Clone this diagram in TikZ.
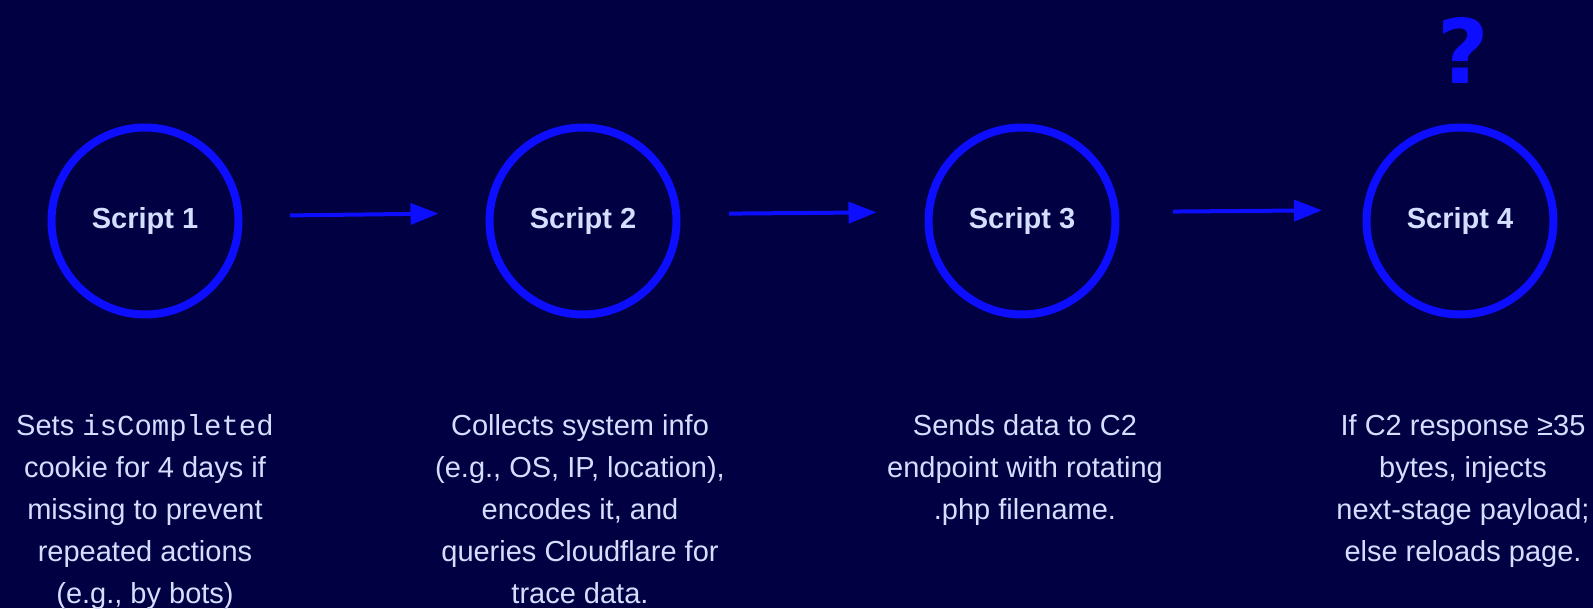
\documentclass[tikz,border=0pt]{standalone}
\usepackage{fontspec}
\setmainfont{Liberation Sans}
\setmonofont{Liberation Mono}
\newfontfamily\qfont{DejaVu Sans}
\usetikzlibrary{arrows.meta}
\definecolor{bgnavy}{HTML}{000042}
\definecolor{vivid}{HTML}{0D0DFF}
\definecolor{pale}{HTML}{D4DEFF}
\tikzset{
  scirc/.style={circle, draw=vivid, line width=8pt, minimum size=187pt, inner sep=0pt,
    text=pale, font=\fontsize{29}{35}\selectfont\bfseries},
  flow/.style={draw=vivid, line width=4pt, -{Triangle[length=28pt,width=21pt]}},
  desc/.style={anchor=north, inner sep=0pt, align=center, text=pale,
    font=\fontsize{29}{42}\selectfont},
  qmark/.style={text=vivid, inner sep=0pt, font=\qfont\fontsize{89}{100}\selectfont\bfseries}
}
\begin{document}
\begin{tikzpicture}[x=1pt,y=-1pt]
\fill[bgnavy] (0,0) rectangle (1593,608);
\useasboundingbox (0,0) rectangle (1593,608);
\node[scirc] (s1) at (145,221) {Script 1};
\node[scirc] (s2) at (583,221) {Script 2};
\node[scirc] (s3) at (1022,221) {Script 3};
\node[scirc] (s4) at (1460,221) {Script 4};
\node[qmark] (q) at (1463,50) {?};
\draw[flow, shorten <=47.5pt, shorten >=47pt] ([yshift=5pt]s1.east) -- ([yshift=8pt]s2.west);
\draw[flow, shorten <=48.5pt, shorten >=48pt] ([yshift=7pt]s2.east) -- ([yshift=9pt]s3.west);
\draw[flow, shorten <=53.5pt, shorten >=40.5pt] ([yshift=9pt]s3.east) -- ([yshift=11pt]s4.west);
\node[desc] (t1) at (145,405.6) {\strut Sets \texttt{isCompleted}\\cookie for 4 days if\\missing to prevent\\repeated actions\\(e.g., by bots)};
\node[desc] (t2) at (580,405.6) {\strut Collects system info\\(e.g., OS, IP, location),\\encodes it, and\\queries Cloudflare for\\trace data.};
\node[desc] (t3) at (1025,405.6) {\strut Sends data to C2\\endpoint with rotating\\.php filename.};
\node[desc] (t4) at (1463,405.6) {\strut If C2 response ≥35\\bytes, injects\\next-stage payload;\\else reloads page.};
\end{tikzpicture}
\end{document}
